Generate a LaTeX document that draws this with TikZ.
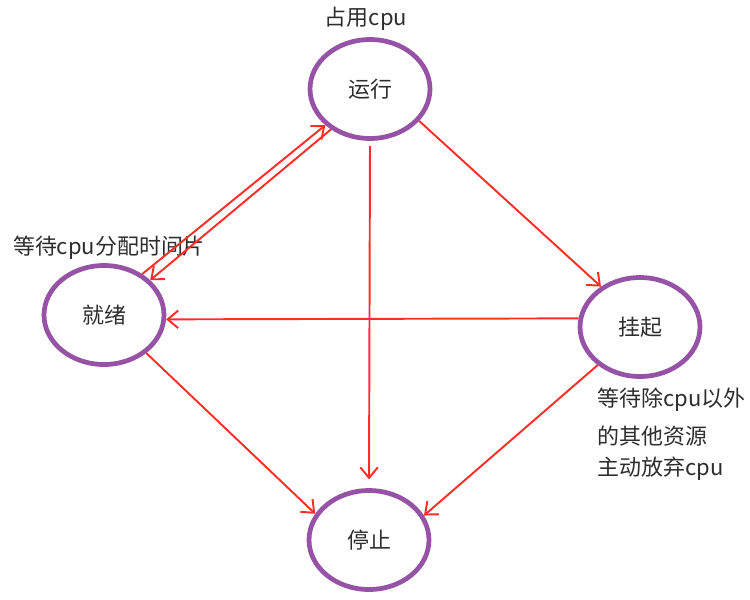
\documentclass[tikz,border=0pt]{standalone}
\usepackage{fontspec}
\setmainfont{Noto Sans CJK SC}
\usepackage{tikz}
\usetikzlibrary{shapes.geometric,arrows.meta}
\definecolor{statepurple}{RGB}{150,82,165}
\definecolor{arrowred}{RGB}{255,45,40}
\definecolor{textgray}{RGB}{45,45,45}
\begin{document}
\begin{tikzpicture}[x=0.02cm,y=-0.02cm,
		state/.style={ellipse,draw=statepurple,line width=2.7pt,minimum width=2.4cm,minimum height=1.98cm,
			text=textgray,font=\fontsize{12.5}{15}\selectfont},
		note/.style={text=textgray,font=\fontsize{12.5}{15}\selectfont,inner sep=0pt},
		trans/.style={draw=arrowred,line width=1.1pt,-{Straight Barb[length=6pt,width=10pt,line width=1.1pt]}}]
			\useasboundingbox (0,0) rectangle (750,599);
			\node[state] (yunxing) at (370,89) {运行};
			\node[state] (jiuxu) at (104,315) {就绪};
			\node[state] (guaqi) at (640,327) {挂起};
			\node[state] (tingzhi) at (369,540) {停止};
			\node[note] (zhanyong) at (366,19) {占用cpu};
			\node[note] (dengcpu) at (109,248) {等待cpu分配时间片};
			\node[note,anchor=west] (deng1) at (597,400) {等待除cpu以外};
			\node[note,anchor=west] (deng2) at (597,436) {的其他资源};
			\node[note,anchor=west] (deng3) at (597,469) {主动放弃cpu};
			\draw[trans] (jiuxu.47) -- (yunxing.219);
			\draw[trans] (yunxing.226) -- (jiuxu.37);
			\draw[trans,shorten <=3pt,shorten >=5pt] (yunxing.south) -- (tingzhi.north);
			\draw[trans] (yunxing.-33) -- (guaqi.134);
			\draw[trans] (guaqi.172) -- (jiuxu.-4);
			\draw[trans] (jiuxu.-42) -- (tingzhi.154);
			\draw[trans] (guaqi.222) -- (tingzhi.24);
			\end{tikzpicture}
\end{document}
